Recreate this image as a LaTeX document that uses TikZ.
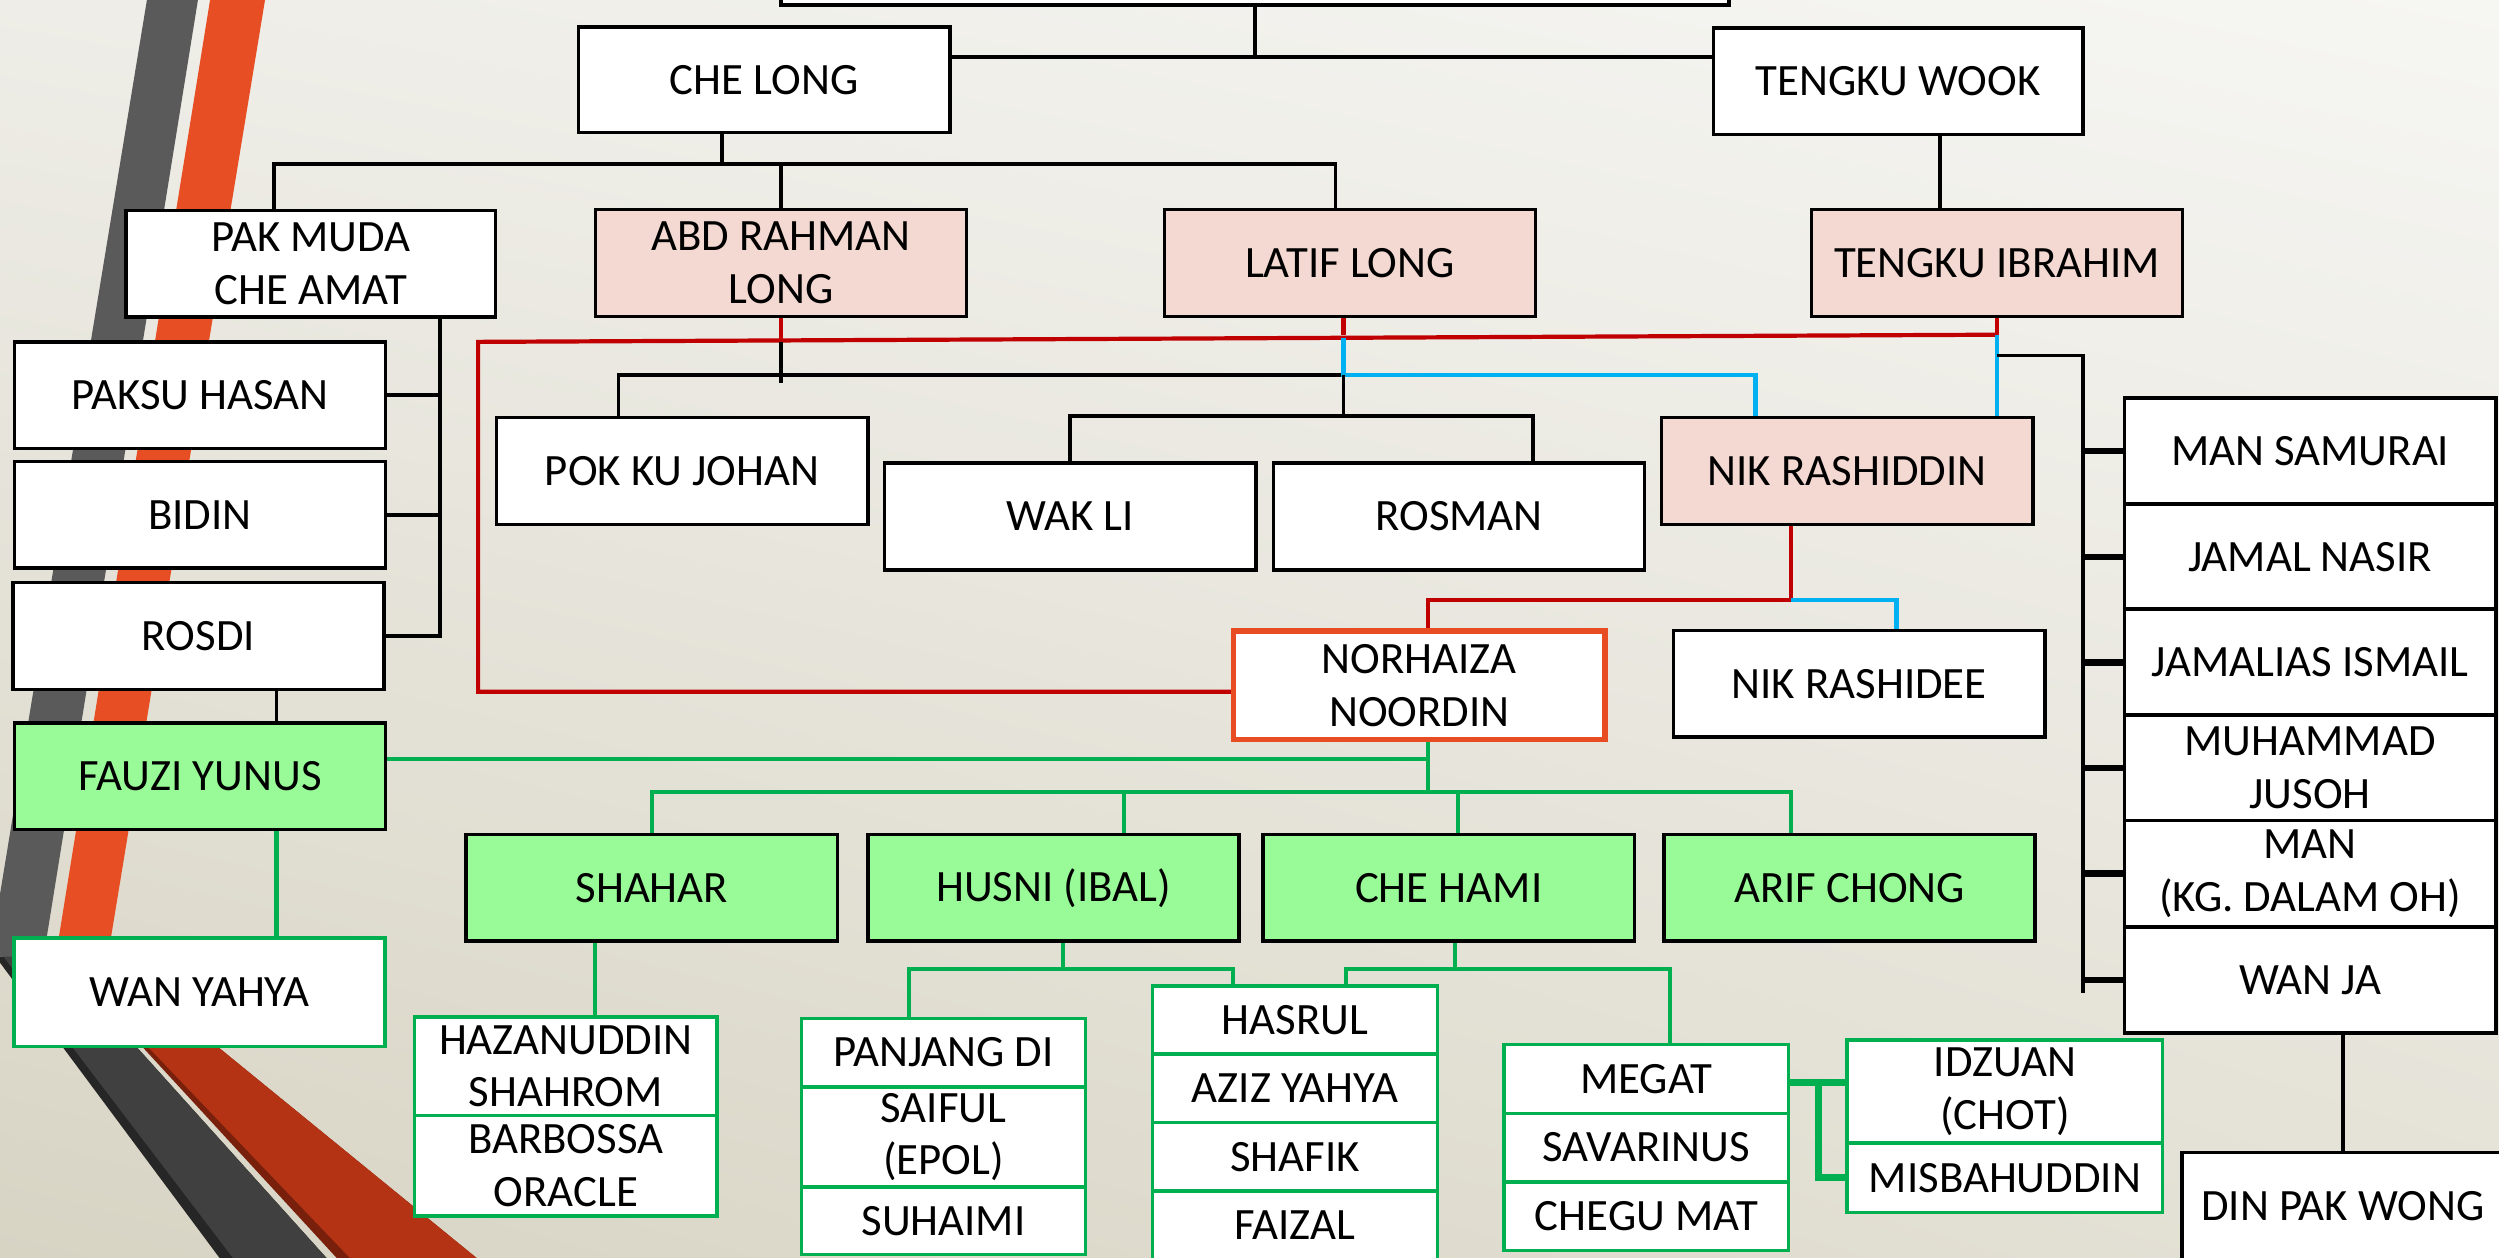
\documentclass[tikz,border=0pt]{standalone}
\usepackage{fontspec}
\setmainfont{Carlito}
\usetikzlibrary{shadings}
\definecolor{kinpink}{RGB}{243,217,209}
\definecolor{leafgreen}{RGB}{152,251,152}
\definecolor{linegreen}{RGB}{0,176,80}
\definecolor{linered}{RGB}{192,0,0}
\definecolor{linecyan}{RGB}{0,176,240}
\definecolor{boxorange}{RGB}{232,76,34}
\definecolor{stripegray}{RGB}{90,90,90}
\definecolor{stripeorange}{RGB}{232,78,36}
\definecolor{stripedark}{RGB}{64,64,64}
\definecolor{stripeshadow}{RGB}{38,38,38}
\definecolor{stripered}{RGB}{180,51,20}
\definecolor{stripeshred}{RGB}{120,32,12}
\tikzset{
	person/.style={
		draw,
		line width=1.25pt,
		fill=white,
		minimum width=4.66cm,
		minimum height=1.34cm,
		inner sep=0pt,
		align=center,
		font=\fontsize{16}{18.8}\selectfont
	},
	leaf/.style={
		person,
		draw=linegreen
	}
}

\begin{document}
\begin{tikzpicture}[x=0.02cm, y=-0.02cm]
	\tikzset{link/.style={line width=1.35pt}}
	\tikzset{stub/.style={line width=2.4pt}}
	\tikzset{redline/.style={line width=1.5pt, linered}}
	\tikzset{cyanline/.style={line width=1.5pt, linecyan}}
	\tikzset{greenline/.style={line width=1.45pt, linegreen}}
	\tikzset{greenstub/.style={line width=2.4pt, linegreen}}
	
	\useasboundingbox (0,0) rectangle (1568,789.3);
	\clip (0,0) rectangle (1568,789.3);
	\shade[upper left={rgb,255:red,238;green,237;blue,231}, upper right={rgb,255:red,246;green,246;blue,243},
		lower left={rgb,255:red,216;green,212;blue,196}, lower right={rgb,255:red,228;green,225;blue,214}]
		(0,0) rectangle (1568,789.3);
	
	% stripes on the left
	\fill[stripeshadow] (-3,600) -- (34.5,600) -- (210,795) -- (142,795) -- cycle;
	\fill[stripedark] (2,600) -- (34.5,600) -- (210,795) -- (150.5,795) -- cycle;
	\fill[stripeshred] (37,600) -- (67,600) -- (306,795) -- (216.5,795) -- cycle;
	\fill[stripered] (38.4,600) -- (67,600) -- (306,795) -- (225,795) -- cycle;
	\fill[stripegray] (93,-5) -- (125,-5) -- (27.4,600) -- (-6.4,600) -- cycle;
	\fill[stripeorange] (132.6,-5) -- (167.1,-5) -- (67.7,600) -- (35,600) -- cycle;
	
	\node(root) at (787.5,-30.5) [person, minimum width=11.9cm] {};
	\node(chelong) at (479.5,50) [person, minimum height=1.32cm] {CHE LONG};
	\node(tengkuwook) at (1191,51) [person, minimum width=4.64cm] {TENGKU WOOK};
	
	\node(pakmuda) at (195,165.5) [person, minimum width=4.64cm] {PAK MUDA\\CHE AMAT};
	\node(abdrahman) at (490,165) [person, fill=kinpink] {ABD RAHMAN\\LONG};
	\node(latif) at (847,165) [person, fill=kinpink] {LATIF LONG};
	\node(tibrahim) at (1253,165) [person, fill=kinpink] {TENGKU IBRAHIM};
	
	\node(paksu) at (125.5,248) [person] {PAKSU HASAN};
	\node(bidin) at (125.5,323) [person] {BIDIN};
	\node(rosdi) at (124.5,399) [person] {ROSDI};
	\node(fauzi) at (125.5,487) [person, fill=leafgreen] {FAUZI YUNUS};
	\node(wanyahya) at (125.2,622.5) [leaf, minimum height=1.36cm] {WAN YAHYA};
	
	\node(pokku) at (428,295.5) [person] {POK KU JOHAN};
	\node(wakli) at (671.5,324) [person] {WAK LI};
	\node(rosman) at (915.5,324) [person] {ROSMAN};
	\node(nikrashiddin) at (1159,295.5) [person, fill=kinpink] {NIK RASHIDDIN};
	
	\node(norhaiza) at (890.5,430) [person, draw=boxorange, line width=2pt, minimum height=1.36cm] {NORHAIZA\\NOORDIN};
	\node(nikrashidee) at (1166.5,429) [person] {NIK RASHIDEE};
	
	\node(shahar) at (409,557) [person, fill=leafgreen] {SHAHAR};
	\node(husni) at (661,557) [person, fill=leafgreen] {HUSNI (IBAL)};
	\node(chehami) at (909,557) [person, fill=leafgreen] {CHE HAMI};
	\node(arif) at (1160.5,557) [person, fill=leafgreen] {ARIF CHONG};
	
	\node(hazan) at (355,669) [leaf, minimum width=3.8cm, minimum height=1.24cm] {HAZANUDDIN\\SHAHROM};
	\node(barbossa) at (355,731.5) [leaf, minimum width=3.8cm, minimum height=1.26cm] {BARBOSSA\\ORACLE};
	
	\node(panjang) at (592,660.4) [leaf, minimum width=3.57cm, minimum height=0.86cm] {PANJANG DI};
	\node(saiful) at (592,713.5) [leaf, minimum width=3.57cm, minimum height=1.26cm] {SAIFUL\\(EPOL)};
	\node(suhaimi) at (592,766) [leaf, minimum width=3.57cm, minimum height=0.85cm] {SUHAIMI};
	
	\node(hasrul) at (812.5,640) [leaf, minimum width=3.58cm, minimum height=0.86cm] {HASRUL};
	\node(aziz) at (812.5,682.8) [leaf, minimum width=3.58cm, minimum height=0.86cm] {AZIZ YAHYA};
	\node(shafik) at (812.5,725.8) [leaf, minimum width=3.58cm, minimum height=0.86cm] {SHAFIK};
	\node(faizal) at (812.5,768.9) [leaf, minimum width=3.58cm, minimum height=0.86cm] {FAIZAL};
	
	\node(megat) at (1033,677) [leaf, minimum width=3.57cm, minimum height=0.86cm] {MEGAT};
	\node(savarinus) at (1033,720) [leaf, minimum width=3.57cm, minimum height=0.86cm] {SAVARINUS};
	\node(chegu) at (1033,763) [leaf, minimum width=3.57cm, minimum height=0.86cm] {CHEGU MAT};
	
	\node(idzuan) at (1258,685) [leaf, minimum width=3.96cm, minimum height=1.3cm] {IDZUAN\\(CHOT)};
	\node(misbah) at (1258,739) [leaf, minimum width=3.96cm, minimum height=0.87cm] {MISBAHUDDIN};
	
	\node(mansamurai) at (1449.5,283) [person, minimum height=1.33cm] {MAN SAMURAI};
	\node(jamal) at (1449.5,349.5) [person, minimum height=1.33cm] {JAMAL NASIR};
	\node(jamalias) at (1449.5,415.5) [person, minimum height=1.33cm] {JAMALIAS ISMAIL};
	\node(muhammad) at (1449.5,481.8) [person, minimum height=1.33cm] {MUHAMMAD\\JUSOH};
	\node(mankg) at (1449.5,548.2) [person, minimum height=1.33cm] {MAN\\(KG. DALAM OH)};
	\node(wanja) at (1449.5,614.9) [person, minimum height=1.33cm] {WAN JA};
	\node(dinpak) at (1470,757) [person, minimum width=4.04cm, minimum height=1.36cm] {DIN PAK WONG};
	
	% levels of the buses
	\coordinate(top) at (788,36);
	\coordinate(clbus) at (453,103);
	\coordinate(redL) at (300,214.5);
	\coordinate(redR) at (1253,210);
	\coordinate(lvA) at (0,235.5);
	\coordinate(lvB) at (0,261);
	\coordinate(rb) at (1307,223);
	\coordinate(lvC) at (0,376.4);
	\coordinate(lvD) at (0,497);
	\coordinate(lvE) at (0,607.7);
	\coordinate(mg) at (1141,0);
	\coordinate(pmbus) at ([xshift=1.62cm]pakmuda.south);
	\coordinate(lt) at ([xshift=-0.08cm]latif.south);
	\coordinate(nr) at ([xshift=-0.71cm]nikrashiddin.south);
	\coordinate(nh) at ([xshift=0.11cm]norhaiza.south);
	
	\draw[link] (root.south) -- (root.south |- top);
	\draw[link] (chelong.east |- top) -- (tengkuwook.west |- top);
	\draw[link] (tengkuwook.south -| tibrahim.south) ++(-0.72cm,0) -- ([xshift=-0.72cm]tibrahim.north);
	
	\draw[link] (clbus |- chelong.south) -- (clbus);
	\draw[link] ([xshift=-0.46cm]pakmuda.north) |- ([xshift=-0.18cm]latif.north |- clbus) -- ([xshift=-0.18cm]latif.north);
	\draw[link] (abdrahman.north) -- (abdrahman.north |- clbus);
	
	\draw[link] (pmbus) |- (rosdi.east);
	\draw[link] (paksu.east) -- (paksu.east -| pmbus);
	\draw[link] (bidin.east) -- (bidin.east -| pmbus);
	\draw[link] ([xshift=0.98cm]rosdi.south) -- ([xshift=0.98cm]rosdi.south |- fauzi.north);
	\draw[greenline] ([xshift=0.96cm]fauzi.south) -- ([xshift=0.96cm]fauzi.south |- wanyahya.north);
	
	\draw[redline] (redR) -- (redL) |- ([yshift=-0.08cm]norhaiza.west);
	\draw[redline] (abdrahman.south) -- (abdrahman.south |- redL);
	\draw[redline] (lt) -- (lt |- redR) ++(0,2);
	\draw[redline] (tibrahim.south) -- (redR);
	
	\draw[link] (abdrahman.south |- redL) -- ++(0,26);
	\draw[link] ([xshift=-0.8cm]pokku.north) |- (lt |- lvA);
	\draw[cyanline] (lt |- redR) ++(0,2) -- (lt |- lvA) -| ([xshift=-1.15cm]nikrashiddin.north);
	\draw[cyanline] (redR) -- (redR |- nikrashiddin.north);
	\draw[link] (lt |- lvA) -- (lt |- lvB);
	\draw[link] (wakli.north) |- ([xshift=0.93cm]rosman.north |- lvB) -- ([xshift=0.93cm]rosman.north);
	
	\draw[link] (redR |- rb) -- (rb) -- ([yshift=-0.16cm]rb |- wanja.west);
	\draw[stub] (rb |- mansamurai.west) -- (mansamurai.west);
	\draw[stub] (rb |- jamal.west) -- (jamal.west);
	\draw[stub] (rb |- jamalias.west) -- (jamalias.west);
	\draw[stub] (rb |- muhammad.west) -- (muhammad.west);
	\draw[stub] (rb |- mankg.west) -- (mankg.west);
	\draw[stub] (rb |- wanja.west) -- (wanja.west);
	\draw[link] (dinpak.north) -- (dinpak.north |- wanja.south);
	
	\draw[redline] (nr) -- (nr |- lvC) -| ([xshift=0.11cm]norhaiza.north);
	\draw[cyanline] (nr |- lvC) -| ([xshift=0.47cm]nikrashidee.north);
	
	\draw[greenline] ([yshift=0.22cm]fauzi.east) -| (nh);
	\draw[greenline] (nh) -- (nh |- lvD);
	\draw[greenline] (shahar.north) |- ([xshift=-0.74cm]arif.north |- lvD) -- ([xshift=-0.74cm]arif.north);
	\draw[greenline] ([xshift=0.88cm]husni.north) -- ([xshift=0.88cm]husni.north |- lvD);
	\draw[greenline] ([xshift=0.12cm]chehami.north) -- ([xshift=0.12cm]chehami.north |- lvD);
	
	\draw[greenline] ([xshift=-0.71cm]shahar.south) -- ([xshift=-0.71cm]shahar.south |- hazan.north);
	\draw[greenline] ([xshift=0.12cm]husni.south) -- ([xshift=0.12cm]husni.south |- lvE);
	\draw[greenline] ([xshift=-0.43cm]panjang.north) |- ([xshift=-0.78cm]hasrul.north |- lvE) -- ([xshift=-0.78cm]hasrul.north);
	\draw[greenline] ([xshift=0.08cm]chehami.south) -- ([xshift=0.08cm]chehami.south |- lvE);
	\draw[greenline] ([xshift=0.64cm]hasrul.north) |- ([xshift=0.3cm]megat.north |- lvE) -- ([xshift=0.3cm]megat.north);
	
	\draw[greenstub] ([yshift=-0.04cm]megat.east) -- ([yshift=-0.04cm]megat.east -| idzuan.west);
	\draw[greenstub] ([yshift=-0.04cm]mg |- megat.east) |- (misbah.west);
\end{tikzpicture}
\end{document}
